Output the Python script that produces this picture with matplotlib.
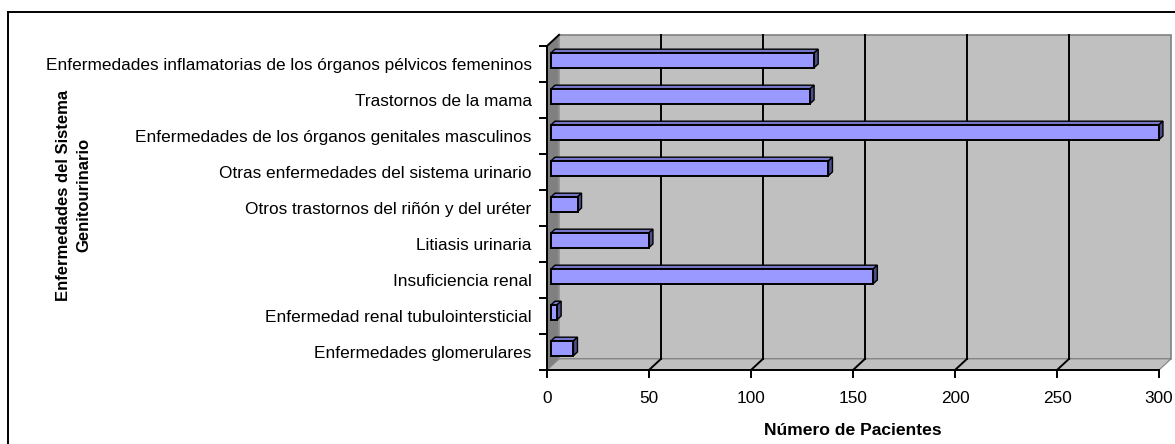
"""3D-style horizontal bar chart: genitourinary diseases by number of patients."""

import matplotlib

matplotlib.use("Agg")
from matplotlib import pyplot as plt
from matplotlib.lines import Line2D
from matplotlib.patches import Polygon

plt.rcParams["font.family"] = ["Liberation Sans", "DejaVu Sans"]

categories = [
    "Enfermedades glomerulares",
    "Enfermedad renal tubulointersticial",
    "Insuficiencia renal",
    "Litiasis urinaria",
    "Otros trastornos del riñón y del uréter",
    "Otras enfermedades del sistema urinario",
    "Enfermedades de los órganos genitales masculinos",
    "Trastornos de la mama",
    "Enfermedades inflamatorias de los órganos pélvicos femeninos",
]
patients = [11, 3, 158, 48, 13, 136, 298, 127, 129]
x_ticks = [0, 50, 100, 150, 200, 250, 300]

X_MAX = 300
# depth offset of the back wall, in data units
DX, DY = 5.9, 0.31
BAR_H = 0.41
BAR_D0, BAR_D1 = 1 / 3, 2 / 3


def proj(x, y, d):
    return (x + d * DX, y + d * DY)


def poly(ax, pts, fc, ec="none", lw=0.8, z=1):
    ax.add_patch(Polygon(pts, closed=True, facecolor=fc, edgecolor=ec,
                         linewidth=lw, clip_on=False, zorder=z))


fig = plt.figure(figsize=(11.75, 4.44), dpi=100)
ax = fig.add_axes([547 / 1175, 74 / 444, 612 / 1175, 324 / 444])
n = len(categories)
y0, y1 = -0.5, n - 0.5
ax.set_xlim(0, X_MAX)
ax.set_ylim(y0, y1)
for s in ax.spines.values():
    s.set_visible(False)
ax.patch.set_visible(False)

# walls
poly(ax, [proj(0, y0, 1), proj(X_MAX, y0, 1), proj(X_MAX, y1, 1), proj(0, y1, 1)],
     "#C0C0C0", ec="#808080", lw=1.2)
poly(ax, [proj(0, y0, 0), proj(0, y1, 0), proj(0, y1, 1), proj(0, y0, 1)],
     "#808080", ec="#A0A0A0", lw=0.8)
poly(ax, [proj(0, y0, 0), proj(X_MAX, y0, 0), proj(X_MAX, y0, 1), proj(0, y0, 1)],
     "#C0C0C0", ec="#808080", lw=0.8)

# gridlines on the back wall and floor
for t in x_ticks[1:-1]:
    ax.add_line(Line2D(*zip(proj(t, y0, 1), proj(t, y1, 1)), color="black",
                       lw=1.4, zorder=2, clip_on=False))
    ax.add_line(Line2D(*zip(proj(t, y0, 0), proj(t, y0, 1)), color="black",
                       lw=1.4, zorder=2, clip_on=False))
ax.add_line(Line2D(*zip(proj(0, y1, 0), proj(0, y1, 1)), color="black",
                   lw=1.4, zorder=2, clip_on=False))

# bars
for i, v in enumerate(patients):
    b, t = i - BAR_H / 2, i + BAR_H / 2
    poly(ax, [proj(0, t, BAR_D0), proj(v, t, BAR_D0), proj(v, t, BAR_D1),
              proj(0, t, BAR_D1)], "#7676C8", ec="black", lw=1.0, z=3)
    poly(ax, [proj(v, b, BAR_D0), proj(v, b, BAR_D1), proj(v, t, BAR_D1),
              proj(v, t, BAR_D0)], "#4E4E8A", ec="black", lw=1.0, z=3)
    poly(ax, [proj(0, b, BAR_D0), proj(v, b, BAR_D0), proj(v, t, BAR_D0),
              proj(0, t, BAR_D0)], "#9999FF", ec="black", lw=1.4, z=4)

# front axes lines
ax.add_line(Line2D([0, 0], [y0, y1], color="black", lw=1.4, zorder=5, clip_on=False))
ax.add_line(Line2D([0, X_MAX], [y0, y0], color="black", lw=1.4, zorder=5, clip_on=False))

ax.set_yticks(range(n))
ax.set_yticklabels(categories, fontsize=12.4)
ax.set_yticks([y0 + k for k in range(n + 1)], minor=True)
ax.tick_params(axis="y", which="major", length=0, pad=11)
ax.tick_params(axis="y", which="minor", length=6, width=1.4, direction="out")
ax.set_xticks(x_ticks)
ax.set_xticklabels([str(t) for t in x_ticks], fontsize=12.4)
ax.tick_params(axis="x", length=6, width=1.4, direction="out", pad=9)

fig.text(853 / 1175, 1 - 430 / 444, "Número de Pacientes", ha="center",
         va="center", fontsize=12.6, fontweight="bold")
fig.text(74 / 1175, 1 - 195 / 444, "Enfermedades del Sistema\nGenitourinario",
         ha="center", va="center", rotation=90, fontsize=12, fontweight="bold",
         linespacing=1.45)

# chart border (right and bottom edges fall outside the image)
fig.add_artist(Line2D([8 / 1175, 8 / 1175], [0, 1 - 12 / 444], color="black",
                      lw=1.4, transform=fig.transFigure))
fig.add_artist(Line2D([8 / 1175, 1], [1 - 12 / 444, 1 - 12 / 444], color="black",
                      lw=1.4, transform=fig.transFigure))

fig.savefig("out.png", dpi=100)
